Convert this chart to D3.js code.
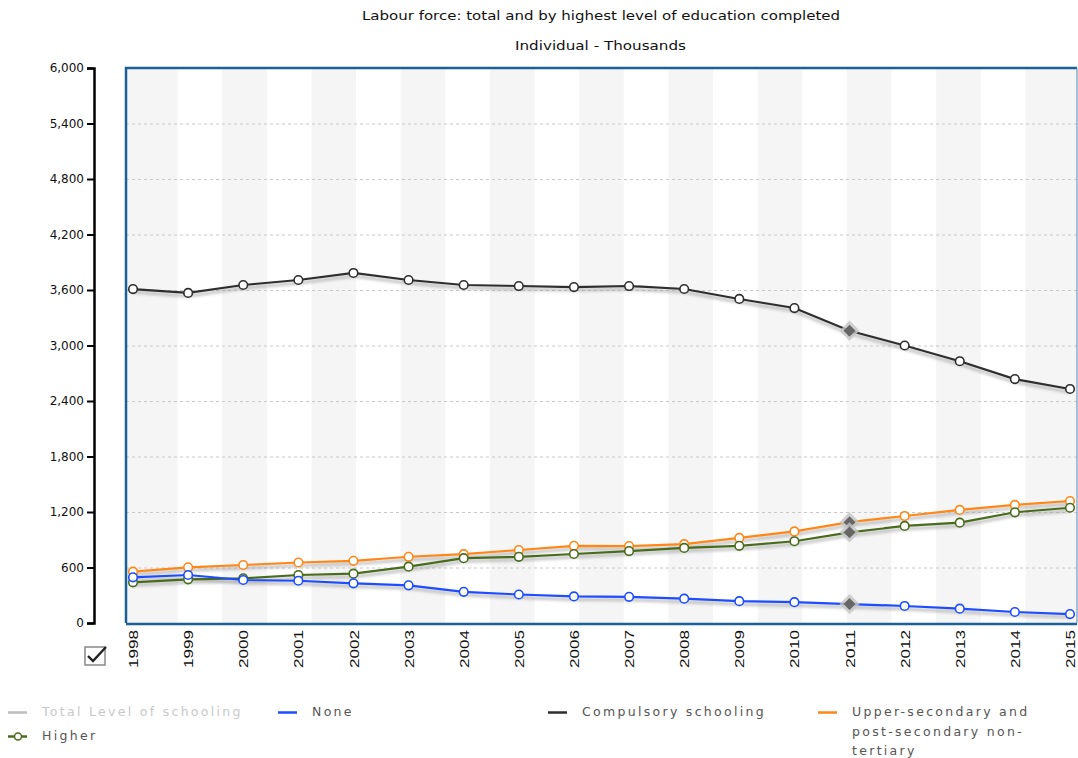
<!DOCTYPE html>
<html>
<head>
<meta charset="utf-8">
<script src="https://cdn.jsdelivr.net/npm/d3@7"></script>
<style>
  body { margin: 0; background: #fff; }
  svg { display: block; }
  .title { font-family: "DejaVu Sans", Verdana, sans-serif; font-size: 11.5px; fill: #111; }
  .y-axis text { font-family: "DejaVu Sans", Verdana, sans-serif; font-size: 12px; fill: #111; }
  .x-axis text { font-family: "Liberation Sans", Arial, sans-serif; font-size: 13px; fill: #111; }
  .legend text { font-family: "DejaVu Sans", Verdana, sans-serif; font-size: 12.5px; letter-spacing: 2.3px; fill: #555; }
</style>
</head>
<body>
<svg id="chart"></svg>
<script>
// years on the x axis
const years = [1998, 1999, 2000, 2001, 2002, 2003, 2004, 2005, 2006, 2007, 2008, 2009, 2010, 2011, 2012, 2013, 2014, 2015];

// values in thousands
const compulsory = [3610, 3568, 3654, 3708, 3784, 3708, 3654, 3643, 3632, 3643, 3611, 3503, 3405, 3160, 3000, 2830, 2637, 2530];
const upperSecondary = [555, 602, 627, 654, 672, 716, 744, 789, 834, 832, 852, 920, 990, 1090, 1157, 1222, 1276, 1319];
const higher = [440, 472, 483, 519, 533, 609, 701, 715, 746, 778, 812, 834, 884, 980, 1049, 1085, 1197, 1246];
const none = [494, 519, 465, 457, 429, 407, 337, 308, 287, 283, 263, 236, 225, 205, 184, 155, 119, 97];

const yTicks = [0, 600, 1200, 1800, 2400, 3000, 3600, 4200, 4800, 5400, 6000];
const highlightYear = 2011;

const series = [
  {name: "Compulsory schooling", values: compulsory, color: "#2e2e2e"},
  {name: "Upper-secondary and post-secondary non-tertiary", values: upperSecondary, color: "#ff8717"},
  {name: "Higher", values: higher, color: "#496b1c"},
  {name: "None", values: none, color: "#1d4dff"}
];

const width = 1078, height = 758;
const plot = {left: 126, top: 68, right: 1077, bottom: 623};

const svg = d3.select("#chart").attr("width", width).attr("height", height);

const defs = svg.append("defs");
defs.append("filter").attr("id", "shadow")
  .attr("x", "-5%").attr("y", "-20%").attr("width", "110%").attr("height", "140%")
  .append("feGaussianBlur").attr("stdDeviation", 1.6);

const xScale = d3.scalePoint().domain(years).range([133, 1070]);
const yScale = d3.scaleLinear().domain([0, 6000]).range([plot.bottom, plot.top]);

// titles
svg.append("text").attr("class", "title").attr("x", 362).attr("y", 20)
  .attr("textLength", 478).attr("lengthAdjust", "spacingAndGlyphs")
  .text("Labour force: total and by highest level of education completed");
svg.append("text").attr("class", "title").attr("x", 515).attr("y", 50)
  .attr("textLength", 171).attr("lengthAdjust", "spacingAndGlyphs")
  .text("Individual - Thousands");

// alternating vertical stripes
const x0 = xScale(years[0]), x1 = xScale(years[years.length - 1]);
const nStripes = 21, sw = (x1 - x0) / nStripes;
const stripes = d3.range(0, nStripes, 2).map(i => {
  let a = x0 + i * sw, b = a + sw;
  if (i === 0) a = plot.left;
  if (i === nStripes - 1) b = plot.right;
  return [a, b];
});
svg.append("g").selectAll("rect").data(stripes).join("rect")
  .attr("x", d => d[0]).attr("y", plot.top)
  .attr("width", d => d[1] - d[0]).attr("height", plot.bottom - plot.top)
  .attr("fill", "#f5f5f5");

// dashed grid
svg.append("g").selectAll("line").data(yTicks.slice(1, -1)).join("line")
  .attr("x1", plot.left).attr("x2", plot.right)
  .attr("y1", d => yScale(d) + 0.5).attr("y2", d => yScale(d) + 0.5)
  .attr("stroke", "#c8c8c8").attr("stroke-dasharray", "3,3");

// y axis, drawn apart from the plot box
const yAxis = d3.axisLeft(yScale).tickValues(yTicks).tickSize(7).tickPadding(3)
  .tickFormat(d3.format(","));
const yAxisG = svg.append("g").attr("class", "y-axis").attr("transform", "translate(94,0)").call(yAxis);
yAxisG.select(".domain").attr("stroke", "#000").attr("stroke-width", 2.5);
yAxisG.selectAll(".tick line").attr("stroke", "#000").attr("stroke-width", 2);

// x axis labels, rotated
const xAxis = d3.axisBottom(xScale).tickSize(0).tickPadding(0);
const xAxisG = svg.append("g").attr("class", "x-axis").attr("transform", `translate(0,${plot.bottom})`).call(xAxis);
xAxisG.select(".domain").remove();
xAxisG.selectAll("text")
  .attr("transform", "rotate(-90)")
  .attr("x", -7).attr("y", 0).attr("dy", "0.35em")
  .attr("text-anchor", "end")
  .attr("textLength", 38).attr("lengthAdjust", "spacingAndGlyphs");

const line = d3.line().x((d, i) => xScale(years[i])).y(d => yScale(d));

// shadows under lines
svg.append("g").attr("filter", "url(#shadow)").selectAll("path").data(series).join("path")
  .attr("d", d => line(d.values)).attr("transform", "translate(0,3)")
  .attr("fill", "none").attr("stroke", "#999").attr("stroke-opacity", 0.6).attr("stroke-width", 3);

const lines = svg.append("g").selectAll("g").data(series).join("g");
lines.append("path")
  .attr("d", d => line(d.values))
  .attr("fill", "none").attr("stroke", d => d.color).attr("stroke-width", 2.2);

lines.each(function(s) {
  const g = d3.select(this);
  const pts = s.values.map((v, i) => ({year: years[i], v: v}));
  g.selectAll("circle").data(pts.filter(p => p.year !== highlightYear)).join("circle")
    .attr("cx", p => xScale(p.year)).attr("cy", p => yScale(p.v)).attr("r", 4.3)
    .attr("fill", "#fff").attr("stroke", s.color).attr("stroke-width", 1.6);
  const h = pts.find(p => p.year === highlightYear);
  const hx = xScale(h.year), hy = yScale(h.v);
  g.append("path").attr("d", d3.symbol(d3.symbolDiamond2, 260)())
    .attr("transform", `translate(${hx},${hy})`).attr("fill", "#c4c4c4").attr("opacity", 0.8);
  g.append("path").attr("d", d3.symbol(d3.symbolDiamond2, 90)())
    .attr("transform", `translate(${hx},${hy})`).attr("fill", "#666");
});

// plot border
svg.append("path")
  .attr("d", `M${plot.left},${plot.bottom}V${plot.top}H${plot.right}`)
  .attr("fill", "none").attr("stroke", "#1b6096").attr("stroke-width", 2.5);
svg.append("line").attr("x1", plot.right).attr("x2", plot.right).attr("y1", plot.top).attr("y2", plot.bottom)
  .attr("stroke", "#6e9cc0").attr("stroke-width", 1.2);
svg.append("line").attr("x1", plot.left).attr("x2", plot.right).attr("y1", plot.bottom + 1).attr("y2", plot.bottom + 1)
  .attr("stroke", "#1b6096").attr("stroke-width", 2.5);

// checkbox icon
const cb = svg.append("g").attr("transform", "translate(84,646)");
cb.append("rect").attr("x", 1).attr("y", 1).attr("width", 20).attr("height", 18)
  .attr("fill", "#fff").attr("stroke", "#888").attr("stroke-width", 1.5);
cb.append("path").attr("d", "M4,10 L9,15 L22,1").attr("fill", "none")
  .attr("stroke", "#222").attr("stroke-width", 2.4);

// legend
const legendItems = [
  {label: ["Total Level of schooling"], color: "#bdbdbd", x: 8, y: 712, text: "#c8c8c8", marker: false},
  {label: ["None"], color: "#1d4dff", x: 278, y: 712, text: "#555", marker: false},
  {label: ["Compulsory schooling"], color: "#2e2e2e", x: 548, y: 712, text: "#555", marker: false},
  {label: ["Upper-secondary and", "post-secondary non-", "tertiary"], color: "#ff8717", x: 818, y: 712, text: "#555", marker: false},
  {label: ["Higher"], color: "#496b1c", x: 8, y: 736, text: "#555", marker: true}
];
const lg = svg.append("g").attr("class", "legend").selectAll("g").data(legendItems).join("g")
  .attr("transform", d => `translate(${d.x},${d.y})`);
lg.append("line").attr("x1", 0).attr("x2", 19).attr("y1", 0.5).attr("y2", 0.5)
  .attr("stroke", d => d.color).attr("stroke-width", 2.5);
lg.filter(d => d.marker).append("circle").attr("cx", 10).attr("cy", 0.5).attr("r", 3.5)
  .attr("fill", "#fff").attr("stroke", d => d.color).attr("stroke-width", 1.5);
lg.append("text").attr("x", 34).attr("y", 0).attr("dy", "0.35em")
  .style("fill", d => d.text)
  .selectAll("tspan").data(d => d.label).join("tspan")
  .attr("x", 34).attr("dy", (d, i) => i === 0 ? "0.35em" : "19.5px").text(d => d);
</script>
</body>
</html>
